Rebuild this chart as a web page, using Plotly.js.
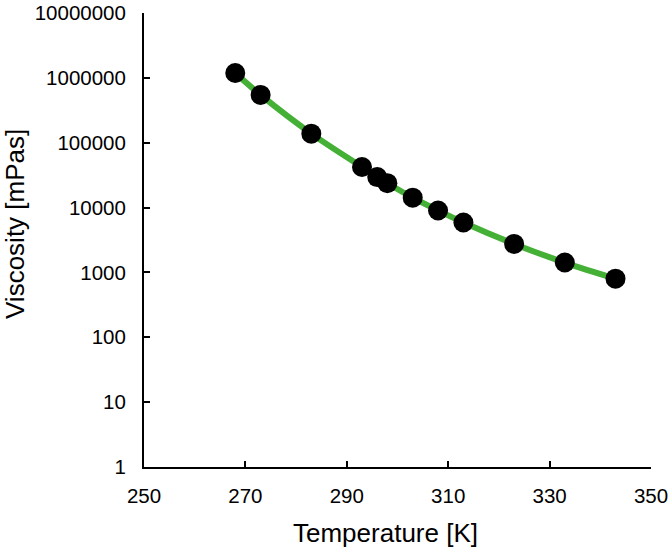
<!DOCTYPE html>
<html>
<head>
<meta charset="utf-8">
<script src="https://cdn.plot.ly/plotly-3.0.1.min.js"></script>
<style>html,body{margin:0;padding:0;background:#fff;}#chart{width:671px;height:551px;}</style>
</head>
<body>
<div id="chart"></div>
<script>
// Data
const temperatureK = [268, 273, 283, 293, 296, 298, 303, 308, 313, 323, 333, 343];
const viscosityMPas = [1190000, 546000, 138000, 42200, 29500, 23800, 14200, 9020, 5890, 2750, 1420, 802];
const xTickVals = [250, 270, 290, 310, 330, 350];
const yTickVals = [1, 10, 100, 1000, 10000, 100000, 1000000, 10000000];
const yTickText = ["1", "10", "100", "1000", "10000", "100000", "1000000", "10000000"];
const xTitle = "Temperature [K]";
const yTitle = "Viscosity [mPas]";

const FONT = "Liberation Sans, Arial, sans-serif";

const fitLine = {
  x: temperatureK, y: viscosityMPas, type: "scatter", mode: "lines",
  line: {color: "#44B035", width: 6, shape: "spline", smoothing: 1},
  hoverinfo: "skip", showlegend: false
};
const points = {
  x: temperatureK, y: viscosityMPas, type: "scatter", mode: "markers",
  marker: {color: "#000000", size: 20, line: {width: 0}},
  showlegend: false
};

const layout = {
  width: 671, height: 551,
  margin: {l: 144, r: 20, t: 13, b: 84, pad: 0},
  paper_bgcolor: "#ffffff", plot_bgcolor: "#ffffff",
  font: {family: FONT, color: "#000000", size: 20},
  showlegend: false,
  xaxis: {
    range: [250, 350], tickvals: xTickVals, ticktext: xTickVals.map(String),
    ticks: "inside", ticklen: 6, tickwidth: 2, tickcolor: "#000",
    showline: true, linecolor: "#000", linewidth: 2,
    showgrid: false, zeroline: false, mirror: false,
    tickfont: {family: FONT, size: 20.5, color: "#000"},
    ticklabelstandoff: 9
  },
  yaxis: {
    type: "log", range: [0, 7], tickvals: yTickVals, ticktext: yTickText,
    ticks: "inside", ticklen: 6, tickwidth: 2, tickcolor: "#000",
    showline: true, linecolor: "#000", linewidth: 2,
    showgrid: false, zeroline: false, mirror: false,
    tickfont: {family: FONT, size: 20.5, color: "#000"},
    ticklabelstandoff: 12
  },
  annotations: [
    {text: xTitle, xref: "paper", yref: "paper", x: (385 - 144) / 507, y: -0.145,
     xanchor: "center", yanchor: "middle", showarrow: false,
     font: {family: FONT, size: 26, color: "#000"}},
    {text: yTitle, xref: "paper", yref: "paper", x: (15 - 144) / 507, y: (467 - 224) / 454,
     xanchor: "center", yanchor: "middle", showarrow: false, textangle: -90,
     font: {family: FONT, size: 26, color: "#000"}}
  ]
};

Plotly.newPlot("chart", [fitLine, points], layout, {staticPlot: true, displayModeBar: false});
</script>
</body>
</html>
